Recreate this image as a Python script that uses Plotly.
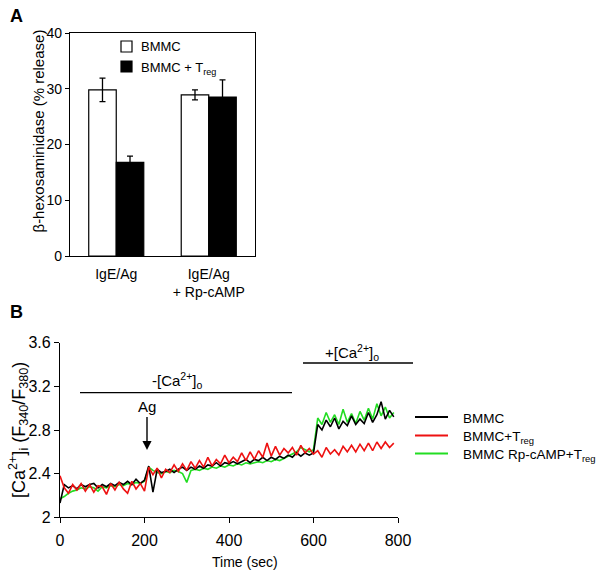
import plotly.graph_objects as go

# ---------------- Panel A data ----------------
categories = ["IgE/Ag", "IgE/Ag<br>+ Rp-cAMP"]
bmmc_vals = [29.8, 28.9]
bmmc_err = [2.1, 0.9]
treg_vals = [16.8, 28.5]
treg_err = [1.1, 3.1]
a_ticks = [0, 10, 20, 30, 40]

# ---------------- Panel B data ----------------
time_s = list(range(0, 800, 10))
bmmc_trace = [
    2.13, 2.30, 2.27, 2.29, 2.26, 2.30, 2.28, 2.30, 2.31, 2.27,
    2.30, 2.28, 2.31, 2.29, 2.32, 2.30, 2.33, 2.30, 2.35, 2.31,
    2.34, 2.47, 2.23, 2.44, 2.41, 2.42, 2.44, 2.41, 2.44, 2.46,
    2.43, 2.46, 2.44, 2.47, 2.45, 2.48, 2.47, 2.50, 2.47, 2.50,
    2.49, 2.51, 2.49, 2.51, 2.53, 2.50, 2.53, 2.52, 2.55, 2.52,
    2.55, 2.53, 2.56, 2.54, 2.57, 2.55, 2.59, 2.56, 2.59, 2.57,
    2.59, 2.85, 2.80, 2.89, 2.83, 2.91, 2.81, 2.88, 2.84, 2.93,
    2.85, 2.90, 2.86, 2.96, 2.87, 2.94, 3.06, 2.90, 2.98, 2.92,
]
treg_trace = [
    2.38, 2.27, 2.22, 2.30, 2.25, 2.31, 2.24, 2.30, 2.23, 2.29,
    2.28, 2.21, 2.31, 2.25, 2.32, 2.26, 2.22, 2.33, 2.26, 2.31,
    2.24, 2.46, 2.39, 2.45, 2.36, 2.44, 2.41, 2.48, 2.42, 2.49,
    2.43, 2.51, 2.45, 2.52, 2.46, 2.55, 2.47, 2.53, 2.49, 2.57,
    2.50, 2.55, 2.51, 2.59, 2.52, 2.60, 2.53, 2.61, 2.55, 2.68,
    2.56, 2.65, 2.57, 2.63, 2.59, 2.64, 2.57, 2.66, 2.59, 2.63,
    2.58, 2.61, 2.55, 2.64, 2.58, 2.62, 2.57, 2.65, 2.60, 2.66,
    2.60, 2.67, 2.61, 2.68, 2.61, 2.69, 2.63, 2.69, 2.64, 2.68,
]
rp_trace = [
    2.17, 2.19, 2.22, 2.24, 2.25, 2.27, 2.26, 2.28, 2.27, 2.24,
    2.28, 2.27, 2.29, 2.28, 2.30, 2.29, 2.31, 2.30, 2.32, 2.31,
    2.33, 2.46, 2.43, 2.41, 2.40, 2.42, 2.41, 2.43, 2.42, 2.40,
    2.32, 2.43, 2.44, 2.43, 2.45, 2.44, 2.46, 2.45, 2.47, 2.46,
    2.48, 2.47, 2.49, 2.48, 2.50, 2.49, 2.50, 2.51, 2.50, 2.52,
    2.51, 2.53, 2.52, 2.54, 2.56, 2.58, 2.60, 2.64, 2.62, 2.60,
    2.62, 2.91, 2.85, 2.96, 2.87, 2.94, 2.85, 2.99, 2.87, 2.95,
    2.86, 2.97, 2.89, 3.00, 2.90, 3.04, 2.93, 3.01, 2.91, 2.96,
]
b_xticks = [0, 200, 400, 600, 800]
b_yticks = [2, 2.4, 2.8, 3.2, 3.6]
b_yticklabels = ["2", "2.4", "2.8", "3.2", "3.6"]

series_names = ["BMMC", "BMMC+T<sub>reg</sub>", "BMMC Rp-cAMP+T<sub>reg</sub>"]
series_colors = ["black", "#ee1111", "#22dd22"]

W, H = 604, 577
def px(x):
    return x / W
def py(y):
    return 1 - y / H

FONT = "Liberation Sans, Arial, sans-serif"

fig = go.Figure()

# Panel A bars
fig.add_trace(go.Bar(
    x=categories, y=bmmc_vals, name="BMMC", showlegend=False,
    marker=dict(color="white", line=dict(color="black", width=1.2)),
    error_y=dict(type="data", array=bmmc_err, color="black", thickness=1.3, width=3),
    xaxis="x", yaxis="y",
))
fig.add_trace(go.Bar(
    x=categories, y=treg_vals, name="BMMC + T<sub>reg</sub>", showlegend=False,
    marker=dict(color="black", line=dict(color="black", width=1.2)),
    error_y=dict(type="data", array=treg_err, color="black", thickness=1.3, width=3),
    xaxis="x", yaxis="y",
))

# Panel B traces (draw order: green, black, red)
for yvals, idx in ((rp_trace, 2), (bmmc_trace, 0), (treg_trace, 1)):
    fig.add_trace(go.Scatter(
        x=time_s, y=yvals, mode="lines", name=series_names[idx], showlegend=False,
        line=dict(color=series_colors[idx], width=1.6),
        xaxis="x2", yaxis="y2",
    ))

axis_common = dict(showline=True, linecolor="black", linewidth=1.2, showgrid=False,
                   zeroline=False, tickcolor="black", automargin=False)

fig.update_layout(
    template="none",
    width=W, height=H, autosize=False,
    margin=dict(l=0, r=0, t=0, b=0, pad=0, autoexpand=False),
    paper_bgcolor="white", plot_bgcolor="white",
    font=dict(family=FONT, color="black"),
    barmode="group", bargap=0.405, bargroupgap=0,
    showlegend=False,
    xaxis=dict(domain=[px(70), px(255)], anchor="y", range=[-0.5, 1.5],
               mirror=True, ticks="", ticklabelstandoff=5, tickfont=dict(size=14), **axis_common),
    yaxis=dict(domain=[py(256), py(33)], anchor="x", range=[0, 40], tickvals=a_ticks,
               mirror=True, ticks="outside", ticklen=4, tickfont=dict(size=14), **axis_common),
    xaxis2=dict(domain=[px(60), px(398)], anchor="y2", range=[0, 800], tickvals=b_xticks,
                ticks="outside", ticklen=5, ticklabelstandoff=3, tickfont=dict(size=16), **axis_common),
    yaxis2=dict(domain=[py(517.3), py(342.7)], anchor="x2", range=[2, 3.6],
                tickvals=b_yticks, ticktext=b_yticklabels,
                ticks="outside", ticklen=5, tickfont=dict(size=16), **axis_common),
)

shapes = [
    # Panel A legend squares
    dict(type="rect", xref="paper", yref="paper", x0=px(121), x1=px(132), y0=py(52), y1=py(41),
         line=dict(color="black", width=1.2), fillcolor="white"),
    dict(type="rect", xref="paper", yref="paper", x0=px(121), x1=px(132), y0=py(72), y1=py(61),
         line=dict(color="black", width=1.2), fillcolor="black"),
    # Panel B condition bars
    dict(type="line", xref="paper", yref="paper", x0=px(80), x1=px(292), y0=py(392.7), y1=py(392.7),
         line=dict(color="black", width=1.3)),
    dict(type="line", xref="paper", yref="paper", x0=px(303), x1=px(413), y0=py(363), y1=py(363),
         line=dict(color="black", width=1.3)),
]
legend_rows = [417, 435.5, 453.5]
for row, color in zip(legend_rows, series_colors):
    shapes.append(dict(type="line", xref="paper", yref="paper", x0=px(415), x1=px(448),
                       y0=py(row), y1=py(row), line=dict(color=color, width=2.2)))
fig.update_layout(shapes=shapes)

def ann(text, x, y, size, **kw):
    d = dict(text=text, x=px(x), y=py(y), xref="paper", yref="paper",
             xanchor="center", yanchor="middle", showarrow=False, font=dict(size=size))
    d.update(kw)
    return d

annotations = [
    ann("<b>A</b>", 16, 16, 18),
    ann("<b>B</b>", 16, 312, 18),
    ann("BMMC", 139, 46.5, 13, xanchor="left"),
    ann("BMMC + T<sub>reg</sub>", 139, 68, 13, xanchor="left"),
    ann("β-hexosaminidase (% release)", 38, 131.5, 15, textangle=-90),
    ann("[Ca<sup>2+</sup>]<sub>i</sub> (F<sub>340</sub>/F<sub>380</sub>)", 18, 430, 18, textangle=-90),
    ann("Time (sec)", 245, 562, 14),
    ann("-[Ca<sup>2+</sup>]<sub>o</sub>", 177, 380, 15),
    ann("+[Ca<sup>2+</sup>]<sub>o</sub>", 352, 352, 15),
    ann("Ag", 147, 450, 15, yanchor="bottom", showarrow=True, ax=0, ay=-33, arrowhead=2,
        arrowsize=1.3, arrowwidth=1.4, arrowcolor="black"),
]
for row, name in zip(legend_rows, series_names):
    annotations.append(ann(name, 461, row + 1.5, 13.5, xanchor="left"))
fig.update_layout(annotations=annotations)

fig.write_html(
    "out.html",
    config={"responsive": False, "displayModeBar": False},
    post_script="document.body.style.margin='0';document.body.style.overflow='hidden';",
)
